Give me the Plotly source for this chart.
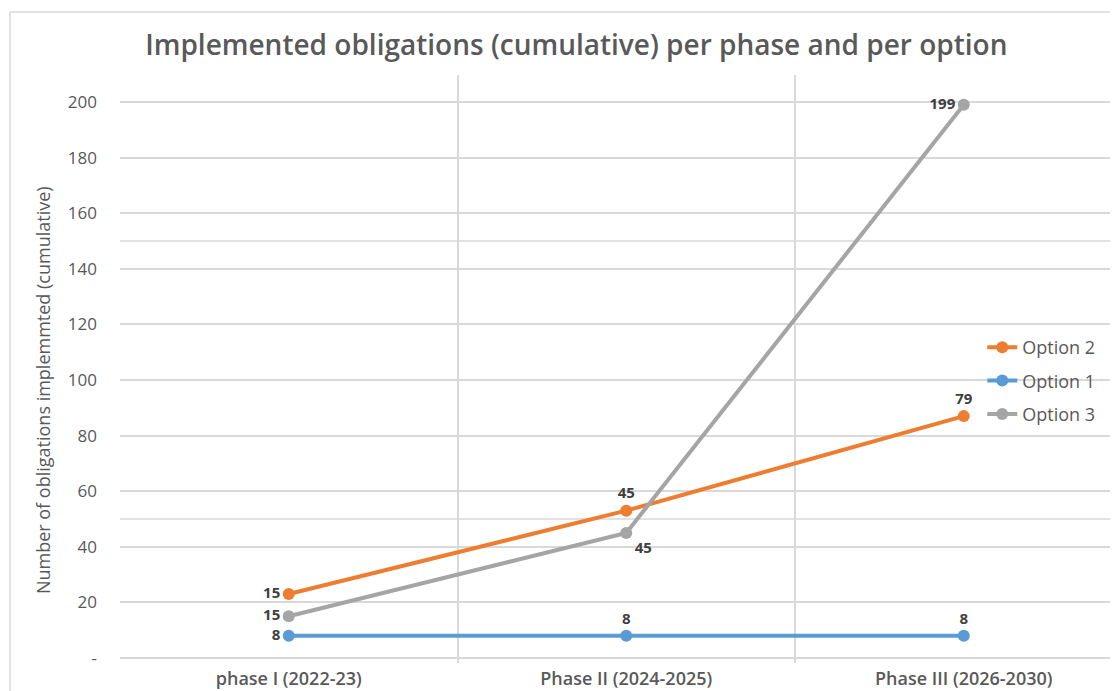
import plotly.graph_objects as go

phases = ["phase I (2022-23)", "Phase II (2024-2025)", "Phase III (2026-2030)"]
option1 = [8, 8, 8]
option2 = [15, 45, 79]
option3 = [15, 45, 199]
y_ticks = [0, 20, 40, 60, 80, 100, 120, 140, 160, 180, 200]
y_ticktext = ["-", "20", "40", "60", "80", "100", "120", "140", "160", "180", "200"]

c_blue = "#5B9BD5"
c_orange = "#ED7D31"
c_gray = "#A5A5A5"
grid = "#D9D9D9"
txt = "#595959"
lab = "#404040"
font = "Open Sans"
lab_font = dict(family=font, size=15, color=lab, weight=700)

fig = go.Figure()

fig.add_trace(go.Scatter(
    x=phases, y=option1, name="Option 1", stackgroup="s", fill="none",
    mode="lines+markers+text", line=dict(color=c_blue, width=4),
    marker=dict(size=12, color=c_blue),
    text=[str(v) for v in option1],
    textposition=["middle left", "top center", "top center"],
    textfont=lab_font,
    legendrank=2, legendgroup="g1",
))
fig.add_trace(go.Scatter(
    x=phases, y=option2, name="Option 2", stackgroup="s", fill="none",
    mode="lines+markers+text", line=dict(color=c_orange, width=4),
    marker=dict(size=12, color=c_orange),
    text=[str(v) for v in option2],
    textposition=["middle left", "top center", "top center"],
    textfont=lab_font,
    legendrank=1, legendgroup="g2",
))
fig.add_trace(go.Scatter(
    x=phases, y=option3, name="Option 3",
    mode="lines+markers+text", line=dict(color=c_gray, width=4),
    marker=dict(size=12, color=c_gray),
    text=[str(v) for v in option3],
    textposition=["middle left", "bottom right", "middle left"],
    textfont=lab_font,
    legendrank=3, legendgroup="g3",
))

fig.update_layout(
    width=1110, height=683,
    margin=dict(l=112, r=0, t=67, b=28),
    paper_bgcolor="white", plot_bgcolor="white",
    font=dict(family=font, color=txt),
    title=dict(
        text="Implemented obligations (cumulative) per phase and per option",
        x=0.512, xanchor="center", y=0.945, yanchor="middle",
        font=dict(family=font, size=28, color=txt, weight=600),
    ),
    showlegend=True,
    legend=dict(
        x=0.864, xanchor="left", y=0.568, yanchor="top",
        font=dict(family=font, size=18, color=txt),
        tracegroupgap=7, bgcolor="rgba(0,0,0,0)",
    ),
    xaxis=dict(
        type="category", range=[-0.5, 2.457], automargin=False,
        showgrid=True, gridcolor=grid, gridwidth=1.5,
        tickson="boundaries", ticks="", showline=False, zeroline=False,
        tickfont=dict(family=font, size=18, color=txt, weight=600),
        ticklabelstandoff=3,
    ),
    yaxis=dict(
        range=[-1.8, 209.7], tickvals=y_ticks, ticktext=y_ticktext,
        automargin=False,
        showgrid=True, gridcolor=grid, gridwidth=1.5, zeroline=False,
        showline=False, ticks="",
        tickfont=dict(family=font, size=17, color=txt),
        ticklabelstandoff=22,
    ),
    annotations=[
        dict(text="Number of obligations implemmted (cumulative)",
             xref="paper", yref="paper", x=-0.0772, y=0.464,
             xanchor="center", yanchor="middle", textangle=-90,
             showarrow=False, font=dict(family=font, size=18, color=txt)),
    ],
    shapes=[
        dict(type="line", xref="paper", yref="y", x0=0, x1=1, y0=50, y1=50,
             line=dict(color=grid, width=1.5), layer="below"),
        dict(type="line", xref="paper", yref="y", x0=0, x1=1, y0=150, y1=150,
             line=dict(color=grid, width=1.5), layer="below"),
        dict(type="rect", xref="paper", yref="paper",
             x0=-0.1102, x1=1.05, y0=-0.2, y1=1.107,
             line=dict(color=grid, width=1.5), fillcolor="rgba(0,0,0,0)",
             layer="below"),
    ],
)

fig.write_html("out.html")
